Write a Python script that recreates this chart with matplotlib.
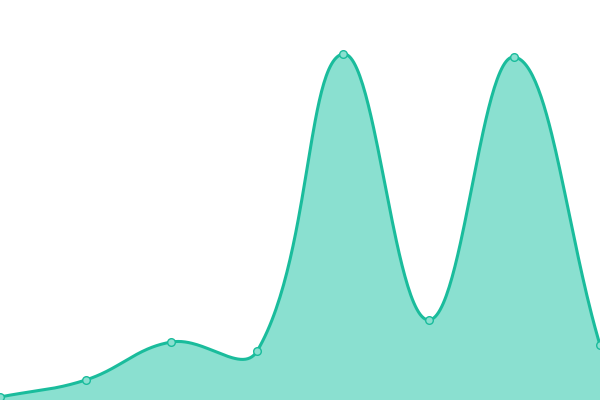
import numpy as np
import matplotlib
matplotlib.use('Agg')
import matplotlib.pyplot as plt

# values
x_vals = [0, 1, 2, 3, 4, 5, 6, 7]
y_vals = [3, 20, 58, 49, 346, 80, 343, 55]

line_color = '#1abc9c'
fill_color = '#8ae0d0'


def smooth(xs, ys, tension=0.4, n=60):
    # bezier spline in pixel space, control points like chart.js
    sxp = 600 / (len(xs) - 1)
    px = np.asarray(xs, float) * sxp
    py = np.asarray(ys, float)
    pts = np.column_stack([px, py])
    m = len(pts)
    c_prev = np.zeros_like(pts)
    c_next = np.zeros_like(pts)
    for i in range(m):
        prev = pts[max(i - 1, 0)]
        cur = pts[i]
        nxt = pts[min(i + 1, m - 1)]
        d01 = np.hypot(*(cur - prev))
        d12 = np.hypot(*(nxt - cur))
        tot = d01 + d12
        s01 = d01 / tot if tot else 0
        s12 = d12 / tot if tot else 0
        c_prev[i] = cur - tension * s01 * (nxt - prev)
        c_next[i] = cur + tension * s12 * (nxt - prev)
    t = np.linspace(0, 1, n)[:, None]
    out = []
    for i in range(m - 1):
        p0, p1, p2, p3 = pts[i], c_next[i], c_prev[i + 1], pts[i + 1]
        seg = ((1 - t) ** 3 * p0 + 3 * (1 - t) ** 2 * t * p1
               + 3 * (1 - t) * t ** 2 * p2 + t ** 3 * p3)
        out.append(seg)
    out = np.vstack(out)
    return out[:, 0] / sxp, out[:, 1]


sx, sy = smooth(x_vals, y_vals)

fig = plt.figure(figsize=(6, 4), dpi=100)
ax = fig.add_axes([0, 0, 1, 1])
ax.fill_between(sx, sy, 0, color=fill_color, linewidth=0)
ax.plot(sx, sy, color=line_color, linewidth=2.2, solid_capstyle='round')
ax.plot(x_vals, y_vals, 'o', markersize=5.5, markerfacecolor=fill_color,
        markeredgecolor=line_color, markeredgewidth=1, clip_on=False)
ax.set_xlim(0, 7)
ax.set_ylim(0, 400)
ax.axis('off')
fig.savefig('out.png', dpi=100)
